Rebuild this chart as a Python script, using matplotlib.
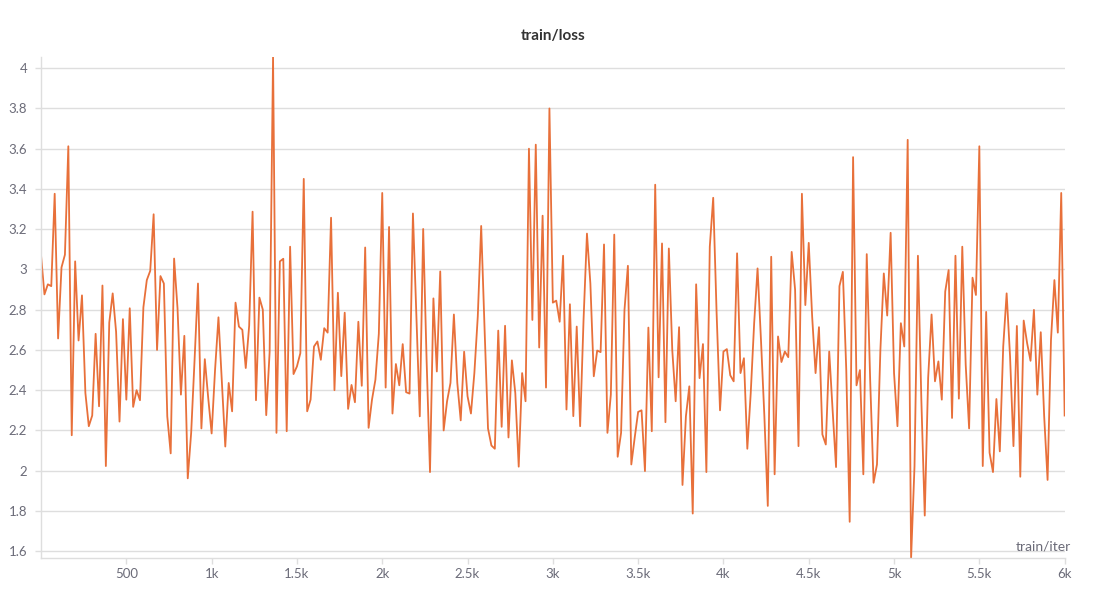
import numpy as np
import matplotlib
matplotlib.use("Agg")
import matplotlib.pyplot as plt
from matplotlib.ticker import FuncFormatter, MultipleLocator

plt.rcParams['font.family'] = ['Lato', 'DejaVu Sans']

iters = list(range(0, 6001, 20))
loss = [
    3.07, 2.876, 2.926, 2.917, 3.376, 2.657, 3.01, 3.073, 3.612, 2.176,
    3.04, 2.647, 2.871, 2.386, 2.221, 2.274, 2.68, 2.32, 2.92, 2.023,
    2.736, 2.881, 2.69, 2.244, 2.753, 2.353, 2.807, 2.317, 2.40, 2.35,
    2.812, 2.947, 2.993, 3.274, 2.60, 2.967, 2.93, 2.27, 2.086, 3.054,
    2.807, 2.378, 2.67, 1.962, 2.188, 2.551, 2.93, 2.21, 2.554, 2.361,
    2.185, 2.50, 2.762, 2.436, 2.12, 2.436, 2.295, 2.835, 2.716, 2.70,
    2.51, 2.72, 3.287, 2.35, 2.86, 2.80, 2.276, 2.59, 4.056, 2.188,
    3.04, 3.053, 2.196, 3.113, 2.48, 2.518, 2.584, 3.45, 2.295, 2.353,
    2.617, 2.642, 2.551, 2.708, 2.686, 3.257, 2.40, 2.884, 2.47, 2.785,
    2.307, 2.426, 2.34, 2.74, 2.422, 3.109, 2.213, 2.353, 2.452, 2.68,
    3.38, 2.413, 3.211, 2.284, 2.53, 2.424, 2.629, 2.39, 2.383, 3.278,
    2.766, 2.27, 3.201, 2.551, 1.993, 2.856, 2.493, 2.99, 2.2, 2.345,
    2.436, 2.776, 2.436, 2.25, 2.591, 2.37, 2.284, 2.485, 2.766, 3.216,
    2.70, 2.21, 2.125, 2.109, 2.696, 2.218, 2.72, 2.165, 2.548, 2.386,
    2.02, 2.485, 2.345, 3.6, 2.749, 3.62, 2.612, 3.267, 2.413, 3.8,
    2.835, 2.845, 2.74, 3.068, 2.304, 2.827, 2.271, 2.716, 2.221, 2.749,
    3.178, 2.93, 2.469, 2.597, 2.589, 3.124, 2.188, 2.378, 3.173, 2.069,
    2.188, 2.799, 3.018, 2.031, 2.165, 2.292, 2.30, 1.998, 2.711, 2.196,
    3.421, 2.464, 3.129, 2.241, 3.104, 2.60, 2.345, 2.713, 1.929, 2.27,
    2.419, 1.787, 2.926, 2.46, 2.629, 1.993, 3.113, 3.356, 2.782, 2.30,
    2.592, 2.604, 2.474, 2.444, 3.08, 2.485, 2.559, 2.109, 2.386, 2.732,
    3.005, 2.65, 2.27, 1.825, 3.063, 1.982, 2.667, 2.54, 2.592, 2.564,
    3.087, 2.90, 2.122, 3.376, 2.823, 3.132, 2.766, 2.485, 2.713, 2.18,
    2.13, 2.592, 2.30, 2.018, 2.917, 2.988, 2.50, 1.746, 3.558, 2.424,
    2.5, 1.982, 3.076, 2.452, 1.94, 2.031, 2.60, 2.98, 2.771, 3.182,
    2.485, 2.221, 2.733, 2.617, 3.644, 1.566, 2.023, 3.068, 2.353, 1.777,
    2.462, 2.776, 2.444, 2.543, 2.353, 2.89, 2.997, 2.262, 3.068, 2.358,
    3.113, 2.527, 2.21, 2.959, 2.873, 3.612, 2.023, 2.789, 2.089, 1.993,
    2.356, 2.096, 2.617, 2.881, 2.568, 2.122, 2.719, 1.97, 2.746, 2.634,
    2.546, 2.799, 2.378, 2.688, 2.271, 1.954, 2.65, 2.947, 2.686, 3.38,
    2.274,
]

line_color = '#e8703a'
grid_color = '#dedede'
text_color = '#6b6b78'


def fmt_x(v, pos):
    if v >= 1000:
        s = f"{v / 1000:g}k"
    else:
        s = f"{v:g}"
    return s


def fmt_y(v, pos):
    return f"{round(v, 2):g}"


fig = plt.figure(figsize=(11.09, 6.03), dpi=100)
ax = fig.add_axes([0.037, 0.0746, 0.923, 0.831])

ax.plot(iters, loss, color=line_color, linewidth=1.3)

ax.set_xlim(0, 6000)
ax.set_ylim(min(loss), max(loss))

ax.xaxis.set_major_formatter(FuncFormatter(fmt_x))
ax.yaxis.set_major_locator(MultipleLocator(0.2))
ax.yaxis.set_major_formatter(FuncFormatter(fmt_y))
# no tick at 0 on x
ax.set_xticks([t for t in range(500, 6001, 500)])

ax.grid(axis='y', color=grid_color, linewidth=1)
ax.set_axisbelow(True)
for side in ['top', 'right']:
    ax.spines[side].set_visible(False)
for side in ['left', 'bottom']:
    ax.spines[side].set_color(grid_color)
    ax.spines[side].set_linewidth(1)

ax.tick_params(axis='both', colors=grid_color, labelcolor=text_color,
               labelsize=9.5, length=4, width=1)
ax.tick_params(axis='y', pad=6)
ax.tick_params(axis='x', pad=3)

ax.set_title("train/loss", fontsize=11, fontweight='bold', color='#333333', pad=12)
ax.text(1.006, 0.012, "train/iter", transform=ax.transAxes, ha='right', va='bottom',
        fontsize=10, color=text_color)

fig.savefig("out.png", dpi=100, facecolor='white')
